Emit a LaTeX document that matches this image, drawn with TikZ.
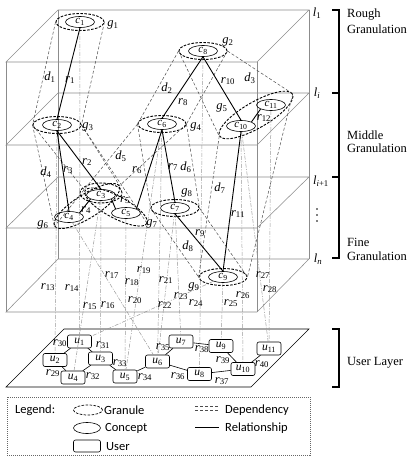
\documentclass[tikz,border=0pt]{standalone}
\usepackage{fontspec}
\setmainfont{Liberation Serif}
\newfontfamily\legendfont{Carlito}
\usetikzlibrary{shapes.geometric}
\newcommand\mylab[2]{\textit{#1}\textsubscript{#2}}
\begin{document}
\begin{tikzpicture}[x=1pt,y=-1pt,
 boxline/.style={draw=black!45,line width=0.55pt},
 concept/.style={ellipse,draw,line width=0.6pt,minimum width=29pt,minimum height=11pt,inner sep=0pt,font=\fontsize{11}{11}\selectfont},
 granule/.style={ellipse,draw,dash pattern=on 2.6pt off 1.4pt,line width=0.9pt,minimum width=48pt,minimum height=17pt,inner sep=0pt},
 dep/.style={draw=black!70,dash pattern=on 3pt off 2pt,line width=0.5pt},
 rel/.style={draw=black,line width=0.9pt},
 proj/.style={draw=black!40,dash pattern=on 4pt off 1.5pt on 1pt off 1.5pt,line width=0.5pt},
 user/.style={draw,rounded corners=2pt,minimum width=24pt,minimum height=13pt,inner sep=0pt,line width=0.6pt,fill=white,font=\fontsize{11.5}{11.5}\selectfont},
 ulink/.style={draw=black,line width=0.6pt},
 lbl/.style={inner sep=0pt,font=\fontsize{12.5}{12.5}\selectfont},
 brk/.style={draw=black,line width=1.5pt},
 side/.style={inner sep=0pt,anchor=west,font=\fontsize{12.5}{12.5}\selectfont},
 leg/.style={inner sep=0pt,anchor=west,font=\legendfont\fontsize{12.5}{12.5}\selectfont},
]
\useasboundingbox (0,0) rectangle (413,458);

% 3D box with layer planes
\foreach \yb/\yf in {10/62,93/145,177/228,259/312}
  \draw[boxline] (6,\yf) -- (257,\yf) -- (309,\yb) -- (58,\yb) -- cycle;
\draw[boxline] (6,62) -- (6,312) (257,62) -- (257,312) (58,10) -- (58,259) (309,10) -- (309,259);

% user layer plane
\draw[line width=0.6pt] (64,329) -- (309,329) -- (251,387) -- (6,387) -- cycle;

% layer labels and brackets
\node[lbl] at (317,13) {\mylab{l}{1}};
\node[lbl] at (317,93) {\mylab{l}{\textit{i}}};
\node[lbl] at (321,181) {\mylab{l}{\textit{i}+1}};
\node[lbl] at (318,259) {\mylab{l}{\textit{n}}};
\foreach \yy in {209,215,221} \fill (317,\yy) circle (0.9pt);
\draw[brk] (332,10) -- (339,10) -- (339,258) -- (332,258);
\draw[brk] (332,93) -- (339,93) (332,177) -- (339,177);
\draw[brk] (332,329) -- (339,329) -- (339,387) -- (332,387);
\node[side] at (347,15) {Rough};
\node[side] at (347,29) {Granulation};
\node[side] at (347,135) {Middle};
\node[side] at (347,148) {Granulation};
\node[side] at (347,242) {Fine};
\node[side] at (347,256) {Granulation};
\node[side] at (347,363) {User Layer};

% granules
\node[granule] (g1) at (80,22) {};
\node[granule] (g2) at (203,51) {};
\node[granule] (g3) at (57,125) {};
\node[granule] (g4) at (162,124) {};
\node[granule,minimum width=84pt,minimum height=26pt,rotate=30] (g5) at (256,115) {};
\node[granule,minimum width=76pt,minimum height=24pt,rotate=32] (g6) at (87,206) {};
\node[granule,minimum width=70pt,minimum height=22pt,rotate=-28] (g7) at (116,207) {};
\node[granule,minimum width=42pt,minimum height=20pt] (gc3) at (101,193) {};
\node[granule] (g8) at (175,208) {};
\node[granule] (g9) at (223,277) {};

% concepts
\node[concept] (c1) at (80,22) {\mylab{c}{1}};
\node[concept] (c8) at (203,51) {\mylab{c}{8}};
\node[concept] (c2) at (57,125) {\mylab{c}{2}};
\node[concept] (c6) at (162,124) {\mylab{c}{6}};
\node[concept] (c10) at (241,126) {\mylab{c}{10}};
\node[concept] (c11) at (271,105) {\mylab{c}{11}};
\node[concept] (c3) at (101,195) {\mylab{c}{3}};
\node[concept] (c4) at (69,217) {\mylab{c}{4}};
\node[concept] (c5) at (126,213) {\mylab{c}{5}};
\node[concept] (c7) at (175,208) {\mylab{c}{7}};
\node[concept] (c9) at (223,277) {\mylab{c}{9}};

% users
\node[user] (u1) at (79.5,341.5) {\mylab{u}{1}};
\node[user] (u2) at (55,360) {\mylab{u}{2}};
\node[user] (u3) at (100.5,358.5) {\mylab{u}{3}};
\node[user] (u4) at (73,377.5) {\mylab{u}{4}};
\node[user] (u5) at (125,376.5) {\mylab{u}{5}};
\node[user] (u6) at (157.5,361.5) {\mylab{u}{6}};
\node[user] (u7) at (181,341.5) {\mylab{u}{7}};
\node[user] (u8) at (199.5,374) {\mylab{u}{8}};
\node[user] (u9) at (221,346) {\mylab{u}{9}};
\node[user] (u10) at (243,369) {\mylab{u}{10}};
\node[user] (u11) at (269,348.5) {\mylab{u}{11}};

% projections concept -> user
\draw[proj] (c2) -- (u2);
\draw[proj] (c1) -- (u1);
\draw[proj] (c3) -- (u4);
\draw[proj] (c3) -- (u3);
\draw[proj] (c4) -- (u6);
\draw[proj] (c5) -- (u5);
\draw[proj] (c6) -- (u5);
\draw[proj] (c9) -- (u1);
\draw[proj] (c6) -- (u6);
\draw[proj] (c7) -- (u6);
\draw[proj] (c7) -- (u7);
\draw[proj] (c8) -- (u8);
\draw[proj] (c9) -- (u9);
\draw[proj] (c10) -- (u10);
\draw[proj] (c11) -- (u11);
\draw[proj] (c10) -- (u11);
\foreach \n/\x/\y in {13/48/287,14/72/288,15/90/306,16/108/305,17/112/275,18/132/282,19/144/270,20/135/300,21/166/280,22/165/305,23/181/296,24/196/303,25/231/303,26/243/295,27/263/275,28/270/289}
  \node[lbl] at (\x,\y) {\mylab{r}{\n}};

% dependencies
\draw[dep] (g1.west) -- (g3.west) (g1.east) -- (g3.east);
\draw[dep] (g2.west) -- (g4.west) (g2.east) -- (g4.east);
\draw[dep] (g2.west) -- (g5.west) (g2.east) -- (g5.east);
\draw[dep] (g3.west) -- (g6.west) (g3.east) -- (g6.east);
\draw[dep] (g4.west) -- (g6.west) (g4.east) -- (g6.east);
\draw[dep] (g3.west) -- (g7.west) (g3.east) -- (g7.east);
\draw[dep] (g4.west) -- (g8.west) (g4.east) -- (g8.east);
\draw[dep] (g5.west) -- (g9.west) (g5.east) -- (g9.east);
\draw[dep] (g8.west) -- (g9.west) (g8.east) -- (g9.east);
\foreach \n/\x/\y in {1/50/77,2/167/88,3/250/78,4/46/172,5/121/156,6/186/167,7/220/188,8/188/246}
  \node[lbl] at (\x,\y) {\mylab{d}{\n}};
\foreach \n/\x/\y in {1/113/25,2/228/42,3/88/127,4/196/127,5/222/108,6/43/225,7/152/224,8/187/193,9/194/287}
  \node[lbl] at (\x,\y) {\mylab{g}{\n}};

% relationships between concepts
\draw[rel] (c1.south) -- (c2.north);
\draw[rel] (c8.south) -- (c6.north);
\draw[rel] (c8.south) -- (c10.north);
\draw[rel] (c10.north east) -- (c11.south west);
\draw[rel] (c2.south) -- (c3.north);
\draw[rel] (c2.south) -- (c4.north);
\draw[rel] (c3.south west) -- (c4.north east);
\draw[rel] (c3.south east) -- (c5.north west);
\draw[rel] (c6.south) -- (c5.north east);
\draw[rel] (c6.south) -- (c7.north);
\draw[rel] (c7.south) -- (c9.north);
\draw[rel] (c10.south) -- (c9.north);
\foreach \n/\x/\y in {1/70/80,8/183/102,10/228/81,12/264/118,2/87/162,3/68/170,6/137/170,7/173/167,4/86/210,5/125/200,9/200/233,11/238/214}
  \node[lbl] at (\x,\y) {\mylab{r}{\n}};

% relationships between users
\draw[ulink] (u1) -- (u2);
\draw[ulink] (u1) -- (u3);
\draw[ulink] (u2) -- (u4);
\draw[ulink] (u3) -- (u4);
\draw[ulink] (u3) -- (u5);
\draw[ulink] (u5) -- (u6);
\draw[ulink] (u6) -- (u7);
\draw[ulink] (u6) -- (u8);
\draw[ulink] (u7) -- (u9);
\draw[ulink] (u8) -- (u10);
\draw[ulink] (u9) -- (u10);
\draw[ulink] (u10) -- (u11);
\foreach \n/\x/\y in {29/53/373,30/60/343,31/103/345,32/93/376,33/120/363,34/145/377,35/163/347,36/178/376,37/222/381,38/202/349,39/223/360,40/262/364}
  \node[lbl] at (\x,\y) {\mylab{r}{\n}};

% legend
\draw[draw=black!60,dash pattern=on 1pt off 1pt,line width=0.5pt] (7,397) rectangle (310,455);
\node[leg] (lt) at (15,410) {Legend:};
\node[granule,minimum width=29pt,minimum height=10pt,line width=0.7pt] (lg) at (88,410) {};
\node[leg] (lgt) at (104,410) {Granule};
\node[concept,minimum width=27pt] (lc) at (87,428) {};
\node[leg] (lct) at (105,428) {Concept};
\node[user,minimum width=27pt,minimum height=12pt] (lu) at (87,446) {};
\node[leg] (lut) at (106,447) {User};
\coordinate (la1) at (195,406.5); \coordinate (la2) at (219,406.5);
\coordinate (lb1) at (195,410.5); \coordinate (lb2) at (219,410.5);
\coordinate (lr1) at (195,427.5); \coordinate (lr2) at (219,427.5);
\draw[dep] (la1) -- (la2) (lb1) -- (lb2);
\draw[line width=0.6pt] (lr1) -- (lr2);
\node[leg] (ldt) at (225,410) {Dependency};
\node[leg] (lrt) at (225,428) {Relationship};
\end{tikzpicture}
\end{document}
